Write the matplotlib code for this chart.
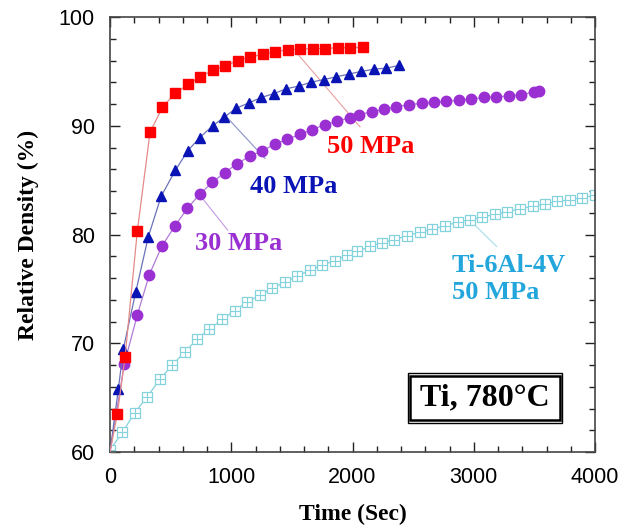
import numpy as np
import matplotlib
matplotlib.use("Agg")
import matplotlib.pyplot as plt
from matplotlib.patches import Rectangle

# Ti, 50 MPa
t_50 = [0, 60, 124, 225, 330, 432, 539, 643, 742, 847, 951, 1053, 1157, 1262,
        1364, 1465, 1570, 1672, 1776, 1878, 1982, 2085]
d_50 = [60.0, 63.5, 68.7, 80.3, 89.4, 91.7, 93.0, 93.8, 94.5, 95.1, 95.5, 96.0,
        96.3, 96.6, 96.8, 97.0, 97.05, 97.1, 97.1, 97.18, 97.18, 97.2]

# Ti, 40 MPa
t_40 = [0, 69, 110, 212, 316, 421, 539, 641, 739, 847, 943, 1039, 1144, 1248,
        1350, 1454, 1556, 1658, 1762, 1867, 1969, 2073, 2177, 2279, 2384]
d_40 = [60.0, 65.8, 69.5, 74.7, 79.8, 83.5, 85.9, 87.7, 88.9, 90.0, 90.8, 91.6,
        92.1, 92.6, 92.95, 93.4, 93.65, 94.0, 94.25, 94.5, 94.75, 95.0, 95.2,
        95.3, 95.55]

# Ti, 30 MPa
t_30 = [0, 118, 225, 324, 426, 536, 638, 739, 844, 946, 1047, 1152, 1256, 1358,
        1462, 1564, 1669, 1771, 1872, 1977, 2054, 2158, 2260, 2361, 2466, 2571,
        2670, 2774, 2876, 2977, 3085, 3186, 3288, 3392, 3494, 3538]
d_30 = [60.0, 68.1, 72.6, 76.3, 78.9, 80.8, 82.4, 83.7, 84.8, 85.7, 86.5, 87.2,
        87.7, 88.3, 88.75, 89.2, 89.65, 90.1, 90.4, 90.75, 91.0, 91.3, 91.5,
        91.75, 91.95, 92.05, 92.15, 92.25, 92.35, 92.45, 92.6, 92.65, 92.75,
        92.85, 93.1, 93.15]

# Ti-6Al-4V, 50 MPa
t_64 = [0, 102, 203, 308, 412, 514, 616, 720, 819, 926, 1028, 1130, 1235, 1336,
        1441, 1542, 1649, 1751, 1856, 1952, 2040, 2144, 2246, 2345, 2447, 2557,
        2659, 2763, 2868, 2969, 3068, 3173, 3274, 3379, 3486, 3588, 3689, 3794,
        3895, 4000]
d_64 = [60.2, 61.8, 63.6, 65.1, 66.7, 68.0, 69.2, 70.4, 71.3, 72.2, 73.0, 73.8,
        74.4, 75.05, 75.6, 76.2, 76.7, 77.2, 77.6, 78.1, 78.45, 78.9, 79.25,
        79.5, 79.9, 80.2, 80.5, 80.8, 81.15, 81.35, 81.6, 81.85, 82.1, 82.35,
        82.6, 82.8, 83.05, 83.2, 83.4, 83.6]

plt.rcParams['font.family'] = ['Liberation Sans', 'DejaVu Sans']
serif = ['Liberation Serif', 'DejaVu Serif']

fig = plt.figure(figsize=(6.33, 5.28), dpi=100)
ax = fig.add_axes([0.1738, 0.1439, 0.7662, 0.8239])

red = '#ff0000'
blue = '#0a14b4'
purple = '#9a2fd2'
cyan = '#84d2dc'
cyan_txt = '#22a6dc'

ax.plot(t_64, d_64, color=cyan, lw=0.9, marker='s', ms=6.5, mfc='white',
        mec=cyan, mew=0.9, zorder=2)
ax.plot(t_64, d_64, ls='none', marker='+', ms=6.5, mec=cyan, mew=0.8, zorder=2)
ax.plot(t_30, d_30, color='#b07ad8', lw=0.9, marker='o', ms=7.5, mfc=purple,
        mec=purple, markevery=range(1, len(t_30)), zorder=3)
ax.plot(t_40, d_40, color='#6a72b8', lw=0.9, marker='^', ms=7.5, mfc=blue,
        mec=blue, markevery=range(1, len(t_40)), zorder=4)
ax.plot(t_50, d_50, color='#e48a8a', lw=0.9, marker='s', ms=7.5, mfc=red,
        mec=red, markevery=range(1, len(t_50)), zorder=5)

ax.set_xlim(0, 4000)
ax.set_ylim(60, 100)
ax.set_xticks(np.arange(0, 4001, 1000))
ax.set_xticks(np.arange(0, 4001, 200), minor=True)
ax.set_yticks(np.arange(60, 101, 10))
ax.set_yticks(np.arange(60, 101, 2), minor=True)
ax.tick_params(which='both', direction='in', top=True, right=True,
               labelsize=15.5, colors='#222222', labelcolor='black')
ax.tick_params(which='major', length=7, width=1, pad=11)
ax.tick_params(which='minor', length=4, width=1)
for s in ax.spines.values():
    s.set_color('#444444')
    s.set_linewidth(1.2)

ax.set_xlabel('Time (Sec)', family=serif, fontweight='bold', fontsize=17,
              labelpad=11)
ax.set_ylabel('Relative Density (%)', family=serif, fontweight='bold',
              fontsize=17, labelpad=14)

# leader lines and labels
ax.plot([1540, 2062], [96.7, 89.9], color='#e8a0a0', lw=0.8, zorder=1)
ax.text(2152, 88.1, '50 MPa', color=red, family=serif, fontweight='bold',
        fontsize=19, ha='center', va='center')
ax.plot([962, 1278], [90.8, 87.0], color='#8a90c8', lw=0.8, zorder=1)
ax.text(1518, 84.4, '40 MPa', color=blue, family=serif, fontweight='bold',
        fontsize=19, ha='center', va='center')
ax.plot([742, 971], [83.6, 80.4], color='#c49ae4', lw=0.8, zorder=1)
ax.text(1064, 79.2, '30 MPa', color=purple, family=serif, fontweight='bold',
        fontsize=19, ha='center', va='center')
ax.plot([2969, 3189], [81.3, 78.9], color='#a8dcea', lw=0.8, zorder=1)
ax.text(2820, 75.9, 'Ti-6Al-4V\n50 MPa', color=cyan_txt, family=serif,
        fontweight='bold', fontsize=19, ha='left', va='center',
        linespacing=1.25)

ax.add_patch(Rectangle((0.614, 0.066), 0.318, 0.116, transform=ax.transAxes,
                       fill=False, ec='black', lw=1.0, zorder=6))
ax.add_patch(Rectangle((0.619, 0.073), 0.308, 0.102, transform=ax.transAxes,
                       fill=False, ec='black', lw=1.8, zorder=6))
ax.text(0.773, 0.124, 'Ti, 780\u00b0C', transform=ax.transAxes,
        family=serif, fontweight='bold', fontsize=23, ha='center',
        va='center', zorder=7)

fig.savefig('out.png', dpi=100)
